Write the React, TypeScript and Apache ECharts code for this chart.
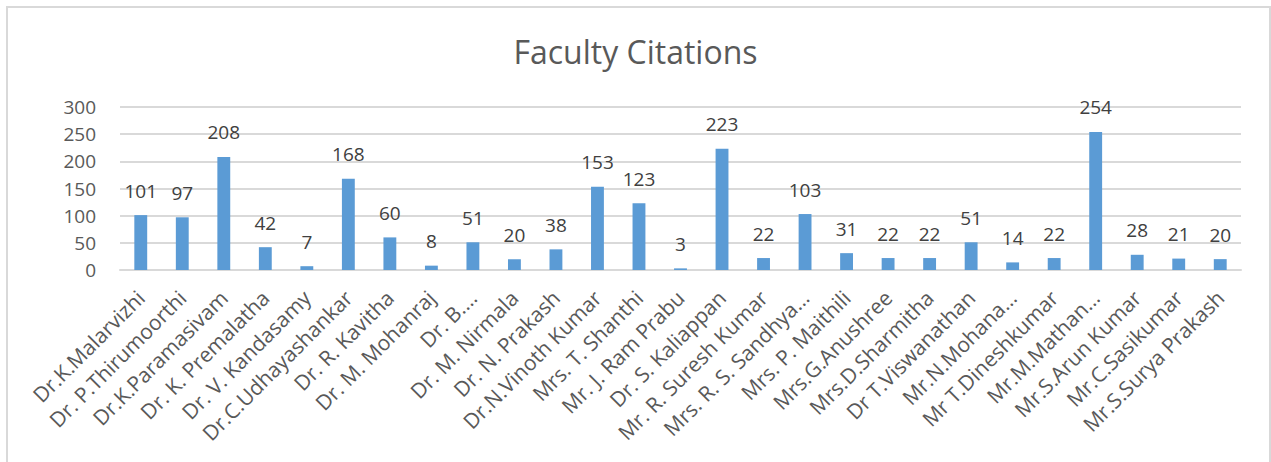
import React, { useEffect, useRef } from "react";
import * as echarts from "echarts";

const categories = [
  "Dr.K.Malarvizhi",
  "Dr. P.Thirumoorthi",
  "Dr.K.Paramasivam",
  "Dr. K. Premalatha",
  "Dr. V. Kandasamy",
  "Dr.C.Udhayashankar",
  "Dr. R. Kavitha",
  "Dr. M. Mohanraj",
  "Dr. B.…",
  "Dr. M. Nirmala",
  "Dr. N. Prakash",
  "Dr.N.Vinoth Kumar",
  "Mrs. T. Shanthi",
  "Mr. J. Ram Prabu",
  "Dr. S. Kaliappan",
  "Mr. R. Suresh Kumar",
  "Mrs. R. S. Sandhya…",
  "Mrs. P. Maithili",
  "Mrs.G.Anushree",
  "Mrs.D.Sharmitha",
  "Dr T.Viswanathan",
  "Mr.N.Mohana…",
  "Mr T.Dineshkumar",
  "Mr.M.Mathan…",
  "Mr.S.Arun Kumar",
  "Mr.C.Sasikumar",
  "Mr.S.Surya Prakash",
];

const citations = [
  101, 97, 208, 42, 7, 168, 60, 8, 51, 20, 38, 153, 123, 3, 223, 22, 103, 31,
  22, 22, 51, 14, 22, 254, 28, 21, 20,
];

const yTicks = { min: 0, max: 300, interval: 50 };
const chartTitle = "Faculty Citations";

export default function App() {
  const ref = useRef<HTMLDivElement>(null);
  useEffect(() => {
    if (!ref.current) return;
    const chart = echarts.init(ref.current, undefined, { renderer: "svg" });
    const font = "'Open Sans', sans-serif";
    chart.setOption({
      animation: false,
      backgroundColor: "#ffffff",
      title: {
        text: chartTitle,
        left: "center",
        top: 30,
        textStyle: {
          fontFamily: font,
          fontSize: 32,
          fontWeight: "normal",
          color: "#595959",
        },
      },
      graphic: [
        {
          type: "rect",
          shape: { x: 7, y: 7, width: 1263, height: 480 },
          style: { fill: "none", stroke: "#d9d9d9", lineWidth: 2 },
          silent: true,
        },
      ],
      grid: { left: 120, right: 30, top: 107, bottom: 192 },
      xAxis: {
        type: "category",
        data: categories,
        axisTick: { show: false },
        axisLine: { lineStyle: { color: "#d9d9d9", width: 2 } },
        axisLabel: {
          rotate: 45,
          interval: 0,
          margin: 24,
          fontFamily: font,
          fontSize: 21,
          color: "#595959",
        },
      },
      yAxis: {
        type: "value",
        min: yTicks.min,
        max: yTicks.max,
        interval: yTicks.interval,
        axisLine: { show: false },
        axisTick: { show: false },
        splitLine: { lineStyle: { color: "#d9d9d9", width: 2 } },
        axisLabel: {
          fontFamily: font,
          fontSize: 19,
          color: "#595959",
          margin: 24,
        },
      },
      series: [
        {
          type: "bar",
          data: citations,
          barWidth: "31%",
          itemStyle: { color: "#5b9bd5" },
          label: {
            show: true,
            position: "top",
            distance: 15,
            fontFamily: font,
            fontSize: 19,
            color: "#404040",
          },
        },
      ],
    });
    return () => chart.dispose();
  }, []);
  return (
    <div
      ref={ref}
      style={{ position: "absolute", left: 0, top: 0, width: 1271, height: 462 }}
    />
  );
}
